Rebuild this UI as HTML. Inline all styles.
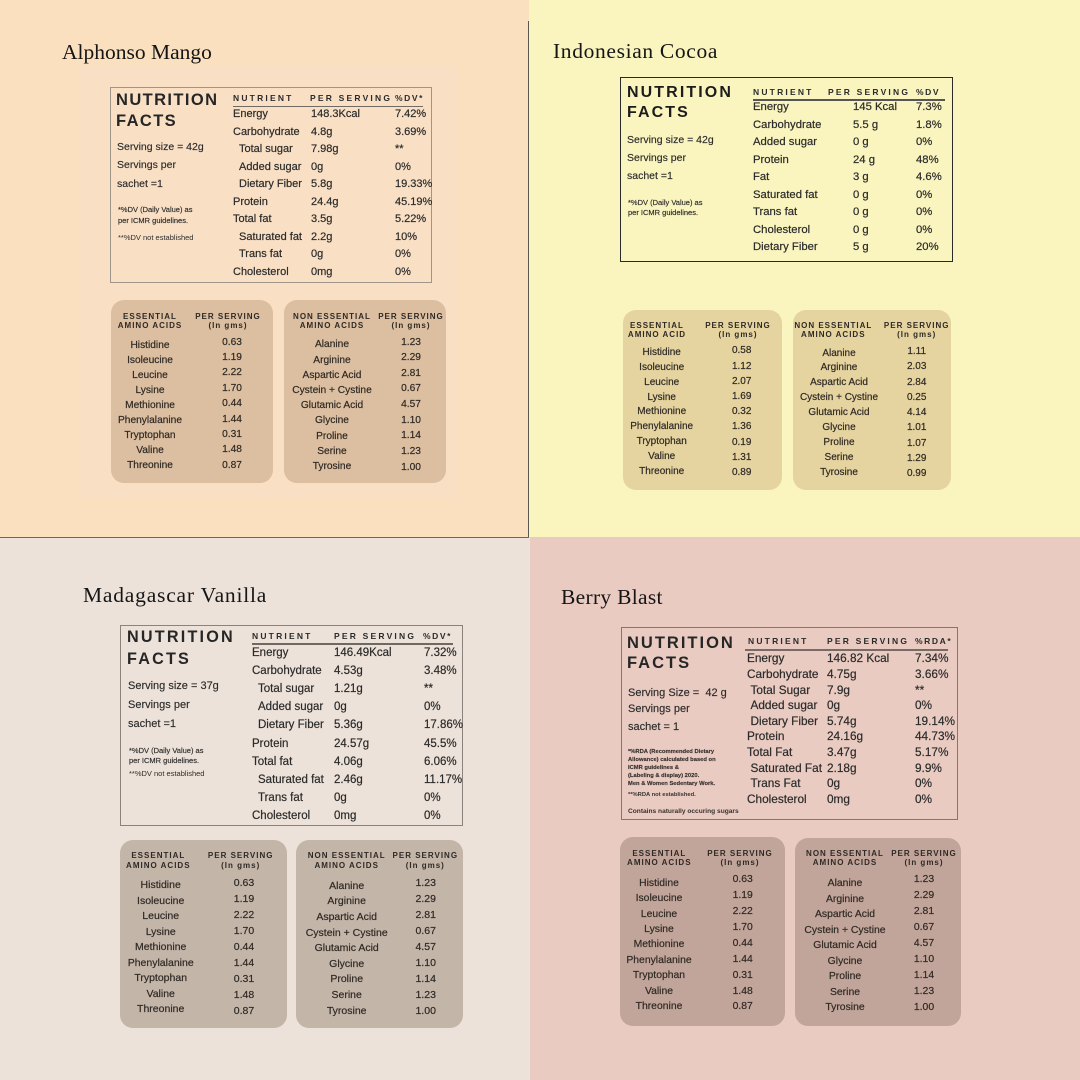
<!DOCTYPE html>
<html><head><meta charset="utf-8">
<style>
*{margin:0;padding:0;box-sizing:border-box}
body{width:1080px;height:1080px;position:relative;overflow:hidden;font-family:"Liberation Sans",sans-serif;color:#2b2b2b;background:#fae0bf}
.a{position:absolute;white-space:nowrap}
.t{position:absolute;font-family:"Liberation Serif",serif;font-size:21.5px;line-height:1;color:#151515;white-space:nowrap}
.nf{position:absolute;border:1.5px solid #9a8e80}
.big{position:absolute;font-weight:bold;white-space:nowrap;color:#262626}
.hd{position:absolute;font-weight:bold;font-size:8.5px;letter-spacing:2.2px;line-height:10px;white-space:nowrap;color:#2b2b2b}
.rows{position:absolute;-webkit-text-stroke:0.2px currentColor}
.rows div{position:relative;white-space:nowrap;height:var(--h);line-height:var(--h)}
.rows span{position:absolute;top:0;left:0}
.rows .i{left:var(--i)}
.rows .v{left:var(--v)}
.rows .p{left:var(--p)}
.box{position:absolute;border-radius:13px}
.col{position:absolute;text-align:center;white-space:nowrap;color:#2f2a25;-webkit-text-stroke:0.2px currentColor}
.col div{height:var(--h);line-height:var(--h)}
.ah{position:absolute;text-align:center;font-weight:bold;font-size:8px;letter-spacing:1px;line-height:9px;white-space:nowrap;color:#2f2a25}
.lt div{white-space:nowrap}
.lt{-webkit-text-stroke:0.15px currentColor}
</style></head><body>

<!-- Quadrant backgrounds -->
<div class="a" style="left:0;top:0;width:529px;height:537px;background:#fae0bf"></div>
<div class="a" style="left:529px;top:0;width:551px;height:537px;background:#faf4bf"></div>
<div class="a" style="left:0;top:537px;width:530px;height:543px;background:#ede2d9"></div>
<div class="a" style="left:530px;top:537px;width:550px;height:543px;background:#e9cbc1"></div>
<div class="a" style="left:80px;top:66px;width:378px;height:431px;background:#f9e0c5"></div>
<div class="a" style="left:528px;top:21px;width:1.3px;height:517px;background:#5a5650"></div>
<div class="a" style="left:0;top:537px;width:529px;height:1.3px;background:#6a655e"></div>

<!-- ============ TOP LEFT: Alphonso Mango ============ -->
<div class="t" style="left:62px;top:42px">Alphonso Mango</div>
<div class="nf" style="left:110px;top:87px;width:322px;height:196px;border-color:#a0958a"></div>
<div class="big" style="left:116px;top:90px;font-size:16.5px;line-height:21px;letter-spacing:1.4px">NUTRITION<br>FACTS</div>
<div class="a lt" style="left:117px;top:137.75px;font-size:10.5px;line-height:18.5px"><div>Serving size = 42g</div><div>Servings per</div><div>sachet =1</div></div>
<div class="a lt" style="left:118px;top:203.5px;font-size:7.5px;line-height:11px"><div>*%DV (Daily Value) as</div><div>per ICMR guidelines.</div></div>
<div class="a" style="left:118px;top:231.5px;font-size:7.5px;line-height:11px">**%DV not established</div>
<div class="hd" style="left:233px;top:93px">NUTRIENT</div>
<div class="hd" style="left:310px;top:93px">PER SERVING</div>
<div class="hd" style="left:395px;top:93px;letter-spacing:1.6px">%DV*</div>
<div class="a" style="left:233px;top:106px;width:190px;height:1.2px;background:#6f6a64"></div>
<div class="rows" style="left:233px;top:106.25px;font-size:11px;--h:17.5px;--i:6px;--v:78px;--p:162px">
<div><span>Energy</span><span class="v">148.3Kcal</span><span class="p">7.42%</span></div>
<div><span>Carbohydrate</span><span class="v">4.8g</span><span class="p">3.69%</span></div>
<div><span class="i">Total sugar</span><span class="v">7.98g</span><span class="p">**</span></div>
<div><span class="i">Added sugar</span><span class="v">0g</span><span class="p">0%</span></div>
<div><span class="i">Dietary Fiber</span><span class="v">5.8g</span><span class="p">19.33%</span></div>
<div><span>Protein</span><span class="v">24.4g</span><span class="p">45.19%</span></div>
<div><span>Total fat</span><span class="v">3.5g</span><span class="p">5.22%</span></div>
<div><span class="i">Saturated fat</span><span class="v">2.2g</span><span class="p">10%</span></div>
<div><span class="i">Trans fat</span><span class="v">0g</span><span class="p">0%</span></div>
<div><span>Cholesterol</span><span class="v">0mg</span><span class="p">0%</span></div>
</div>

<div class="box" style="left:111px;top:300px;width:162px;height:183px;background:#dcbea0"></div>
<div class="ah" style="left:100px;top:311.5px;width:100px">ESSENTIAL<br>AMINO ACIDS</div>
<div class="ah" style="left:178px;top:311.5px;width:100px">PER SERVING<br>(In gms)</div>
<div class="col" style="left:95px;top:337.5px;width:110px;font-size:10.2px;--h:15.04px">
<div>Histidine</div><div>Isoleucine</div><div>Leucine</div><div>Lysine</div><div>Methionine</div><div>Phenylalanine</div><div>Tryptophan</div><div>Valine</div><div>Threonine</div></div>
<div class="col" style="left:192px;top:334.6px;width:80px;font-size:10.2px;--h:15.4px">
<div>0.63</div><div>1.19</div><div>2.22</div><div>1.70</div><div>0.44</div><div>1.44</div><div>0.31</div><div>1.48</div><div>0.87</div></div>

<div class="box" style="left:284px;top:300px;width:162px;height:183px;background:#dcbea0"></div>
<div class="ah" style="left:272px;top:311.5px;width:120px">NON ESSENTIAL<br>AMINO ACIDS</div>
<div class="ah" style="left:361px;top:311.5px;width:100px">PER SERVING<br>(In gms)</div>
<div class="col" style="left:267px;top:337.4px;width:130px;font-size:10.2px;--h:15.2px">
<div>Alanine</div><div>Arginine</div><div>Aspartic Acid</div><div>Cystein + Cystine</div><div>Glutamic Acid</div><div>Glycine</div><div>Proline</div><div>Serine</div><div>Tyrosine</div></div>
<div class="col" style="left:371px;top:334.5px;width:80px;font-size:10.2px;--h:15.67px">
<div>1.23</div><div>2.29</div><div>2.81</div><div>0.67</div><div>4.57</div><div>1.10</div><div>1.14</div><div>1.23</div><div>1.00</div></div>

<!-- ============ TOP RIGHT: Indonesian Cocoa ============ -->
<div class="t" style="left:553px;top:41.3px;letter-spacing:0.65px">Indonesian Cocoa</div>
<div class="nf" style="left:620px;top:77px;width:333px;height:185px;border-color:#2a2a2a"></div>
<div class="big" style="left:627px;top:83px;font-size:16px;line-height:20.4px;letter-spacing:2.1px;color:#1c1c1c">NUTRITION<br>FACTS</div>
<div class="a lt" style="left:627px;top:130.8px;font-size:10.5px;line-height:18.35px"><div>Serving size = 42g</div><div>Servings per</div><div>sachet =1</div></div>
<div class="a lt" style="left:628px;top:198.3px;font-size:7.5px;line-height:10px"><div>*%DV (Daily Value) as</div><div>per ICMR guidelines.</div></div>
<div class="hd" style="left:753px;top:86.7px">NUTRIENT</div>
<div class="hd" style="left:828px;top:86.7px">PER SERVING</div>
<div class="hd" style="left:916px;top:86.7px;letter-spacing:1.6px">%DV</div>
<div class="a" style="left:753px;top:99px;width:192px;height:1.5px;background:#555"></div>
<div class="rows" style="left:753px;top:99.25px;font-size:11.3px;--h:17.5px;--i:0px;--v:100px;--p:163px">
<div><span>Energy</span><span class="v">145 Kcal</span><span class="p">7.3%</span></div>
<div><span>Carbohydrate</span><span class="v">5.5 g</span><span class="p">1.8%</span></div>
<div><span>Added sugar</span><span class="v">0 g</span><span class="p">0%</span></div>
<div><span>Protein</span><span class="v">24 g</span><span class="p">48%</span></div>
<div><span>Fat</span><span class="v">3 g</span><span class="p">4.6%</span></div>
<div><span>Saturated fat</span><span class="v">0 g</span><span class="p">0%</span></div>
<div><span>Trans fat</span><span class="v">0 g</span><span class="p">0%</span></div>
<div><span>Cholesterol</span><span class="v">0 g</span><span class="p">0%</span></div>
<div><span>Dietary Fiber</span><span class="v">5 g</span><span class="p">20%</span></div>
</div>

<div class="box" style="left:623px;top:310px;width:159px;height:180px;background:#e6d4a0"></div>
<div class="ah" style="left:607px;top:320.5px;width:100px">ESSENTIAL<br>AMINO ACID</div>
<div class="ah" style="left:688px;top:320.5px;width:100px">PER SERVING<br>(In gms)</div>
<div class="col" style="left:606.7px;top:345.9px;width:110px;font-size:10px;--h:14.875px">
<div>Histidine</div><div>Isoleucine</div><div>Leucine</div><div>Lysine</div><div>Methionine</div><div>Phenylalanine</div><div>Tryptophan</div><div>Valine</div><div>Threonine</div></div>
<div class="col" style="left:701.7px;top:343.4px;width:80px;font-size:10px;--h:15.2px">
<div>0.58</div><div>1.12</div><div>2.07</div><div>1.69</div><div>0.32</div><div>1.36</div><div>0.19</div><div>1.31</div><div>0.89</div></div>

<div class="box" style="left:793px;top:310px;width:158px;height:180px;background:#e6d4a0"></div>
<div class="ah" style="left:773.3px;top:320.5px;width:120px">NON ESSENTIAL<br>AMINO ACIDS</div>
<div class="ah" style="left:866.7px;top:320.5px;width:100px">PER SERVING<br>(In gms)</div>
<div class="col" style="left:774px;top:346.55px;width:130px;font-size:10px;--h:14.9px">
<div>Alanine</div><div>Arginine</div><div>Aspartic Acid</div><div>Cystein + Cystine</div><div>Glutamic Acid</div><div>Glycine</div><div>Proline</div><div>Serine</div><div>Tyrosine</div></div>
<div class="col" style="left:876.7px;top:344.1px;width:80px;font-size:10px;--h:15.25px">
<div>1.11</div><div>2.03</div><div>2.84</div><div>0.25</div><div>4.14</div><div>1.01</div><div>1.07</div><div>1.29</div><div>0.99</div></div>

<!-- ============ BOTTOM LEFT: Madagascar Vanilla ============ -->
<div class="t" style="left:83px;top:585.3px;letter-spacing:0.8px">Madagascar Vanilla</div>
<div class="nf" style="left:120px;top:625px;width:343px;height:201px;border-color:#8a837d"></div>
<div class="big" style="left:127px;top:627px;font-size:16.2px;line-height:21.7px;letter-spacing:2.2px">NUTRITION<br>FACTS</div>
<div class="a lt" style="left:128px;top:676.5px;font-size:11px;line-height:19px"><div>Serving size = 37g</div><div>Servings per</div><div>sachet =1</div></div>
<div class="a lt" style="left:129px;top:745.65px;font-size:7.5px;line-height:10.7px"><div>*%DV (Daily Value) as</div><div>per ICMR guidelines.</div></div>
<div class="a" style="left:129px;top:769px;font-size:7.5px;line-height:10.7px">**%DV not established</div>
<div class="hd" style="left:252px;top:631px">NUTRIENT</div>
<div class="hd" style="left:334px;top:631px">PER SERVING</div>
<div class="hd" style="left:423px;top:631px;letter-spacing:1.6px">%DV*</div>
<div class="a" style="left:252px;top:643px;width:201px;height:1.5px;background:#6e6963"></div>
<div class="rows" style="left:252px;top:643.9px;font-size:11.5px;--h:18.15px;--i:6px;--v:82px;--p:172px">
<div><span>Energy</span><span class="v">146.49Kcal</span><span class="p">7.32%</span></div>
<div><span>Carbohydrate</span><span class="v">4.53g</span><span class="p">3.48%</span></div>
<div><span class="i">Total sugar</span><span class="v">1.21g</span><span class="p">**</span></div>
<div><span class="i">Added sugar</span><span class="v">0g</span><span class="p">0%</span></div>
<div><span class="i">Dietary Fiber</span><span class="v">5.36g</span><span class="p">17.86%</span></div>
<div><span>Protein</span><span class="v">24.57g</span><span class="p">45.5%</span></div>
<div><span>Total fat</span><span class="v">4.06g</span><span class="p">6.06%</span></div>
<div><span class="i">Saturated fat</span><span class="v">2.46g</span><span class="p">11.17%</span></div>
<div><span class="i">Trans fat</span><span class="v">0g</span><span class="p">0%</span></div>
<div><span>Cholesterol</span><span class="v">0mg</span><span class="p">0%</span></div>
</div>

<div class="box" style="left:120px;top:840px;width:167px;height:188px;background:#c4b5a9"></div>
<div class="ah" style="left:108.3px;top:851.35px;width:100px;line-height:9.3px">ESSENTIAL<br>AMINO ACIDS</div>
<div class="ah" style="left:190.7px;top:851.35px;width:100px;line-height:9.3px">PER SERVING<br>(In gms)</div>
<div class="col" style="left:105.7px;top:878.25px;width:110px;font-size:10.5px;--h:15.5px">
<div>Histidine</div><div>Isoleucine</div><div>Leucine</div><div>Lysine</div><div>Methionine</div><div>Phenylalanine</div><div>Tryptophan</div><div>Valine</div><div>Threonine</div></div>
<div class="col" style="left:204px;top:874.7px;width:80px;font-size:10.5px;--h:16.04px">
<div>0.63</div><div>1.19</div><div>2.22</div><div>1.70</div><div>0.44</div><div>1.44</div><div>0.31</div><div>1.48</div><div>0.87</div></div>

<div class="box" style="left:296px;top:840px;width:167px;height:188px;background:#c4b5a9"></div>
<div class="ah" style="left:286.7px;top:851.35px;width:120px;line-height:9.3px">NON ESSENTIAL<br>AMINO ACIDS</div>
<div class="ah" style="left:375.3px;top:851.35px;width:100px;line-height:9.3px">PER SERVING<br>(In gms)</div>
<div class="col" style="left:281.7px;top:878.9px;width:130px;font-size:10.5px;--h:15.6px">
<div>Alanine</div><div>Arginine</div><div>Aspartic Acid</div><div>Cystein + Cystine</div><div>Glutamic Acid</div><div>Glycine</div><div>Proline</div><div>Serine</div><div>Tyrosine</div></div>
<div class="col" style="left:385.7px;top:874.65px;width:80px;font-size:10.5px;--h:16.1px">
<div>1.23</div><div>2.29</div><div>2.81</div><div>0.67</div><div>4.57</div><div>1.10</div><div>1.14</div><div>1.23</div><div>1.00</div></div>

<!-- ============ BOTTOM RIGHT: Berry Blast ============ -->
<div class="t" style="left:561px;top:587px;letter-spacing:0.3px">Berry Blast</div>
<div class="nf" style="left:621px;top:627px;width:337px;height:193px;border-color:#857570"></div>
<div class="big" style="left:627px;top:632.6px;font-size:16.5px;line-height:20.8px;letter-spacing:2px">NUTRITION<br>FACTS</div>
<div class="a lt" style="left:628px;top:683.7px;font-size:11px;line-height:18px">Serving Size =&nbsp; 42 g</div>
<div class="a lt" style="left:628px;top:700px;font-size:11px;line-height:18px">Servings per</div>
<div class="a lt" style="left:628px;top:718.3px;font-size:11px;line-height:18px">sachet = 1</div>
<div class="a lt" style="left:628px;top:749.3px;font-size:5.8px;line-height:7.95px;font-weight:bold;color:#3a3230"><div>*%RDA (Recommended Dietary</div><div>Allowance) calculated based on</div><div>ICMR guidelines &amp;</div><div>(Labeling &amp; display) 2020.</div><div>Men &amp; Women Sedentary Work.</div></div>
<div class="a" style="left:628px;top:791.3px;font-size:5.8px;line-height:8px;font-weight:bold;color:#3a3230">**%RDA not established.</div>
<div class="a" style="left:628px;top:806.5px;font-size:6.6px;line-height:9px;font-weight:bold;color:#3a3230">Contains naturally occuring sugars</div>
<div class="hd" style="left:748px;top:636px">NUTRIENT</div>
<div class="hd" style="left:827px;top:636px">PER SERVING</div>
<div class="hd" style="left:915px;top:636px;letter-spacing:1.6px">%RDA*</div>
<div class="a" style="left:745px;top:649px;width:203px;height:1.5px;background:#7a6a65"></div>
<div class="rows" style="left:747px;top:651.2px;font-size:11.8px;--h:15.67px;--i:3.5px;--v:80px;--p:168px">
<div><span>Energy</span><span class="v">146.82 Kcal</span><span class="p">7.34%</span></div>
<div><span>Carbohydrate</span><span class="v">4.75g</span><span class="p">3.66%</span></div>
<div><span class="i">Total Sugar</span><span class="v">7.9g</span><span class="p">**</span></div>
<div><span class="i">Added sugar</span><span class="v">0g</span><span class="p">0%</span></div>
<div><span class="i">Dietary Fiber</span><span class="v">5.74g</span><span class="p">19.14%</span></div>
<div><span>Protein</span><span class="v">24.16g</span><span class="p">44.73%</span></div>
<div><span>Total Fat</span><span class="v">3.47g</span><span class="p">5.17%</span></div>
<div><span class="i">Saturated Fat</span><span class="v">2.18g</span><span class="p">9.9%</span></div>
<div><span class="i">Trans Fat</span><span class="v">0g</span><span class="p">0%</span></div>
<div><span>Cholesterol</span><span class="v">0mg</span><span class="p">0%</span></div>
</div>

<div class="box" style="left:620px;top:837px;width:165px;height:189px;background:#c2a59a"></div>
<div class="ah" style="left:609.3px;top:849px;width:100px;line-height:9.3px">ESSENTIAL<br>AMINO ACIDS</div>
<div class="ah" style="left:690px;top:849px;width:100px;line-height:9.3px">PER SERVING<br>(In gms)</div>
<div class="col" style="left:604px;top:875.6px;width:110px;font-size:10.4px;--h:15.46px">
<div>Histidine</div><div>Isoleucine</div><div>Leucine</div><div>Lysine</div><div>Methionine</div><div>Phenylalanine</div><div>Tryptophan</div><div>Valine</div><div>Threonine</div></div>
<div class="col" style="left:702.7px;top:872.35px;width:80px;font-size:10.4px;--h:15.9px">
<div>0.63</div><div>1.19</div><div>2.22</div><div>1.70</div><div>0.44</div><div>1.44</div><div>0.31</div><div>1.48</div><div>0.87</div></div>

<div class="box" style="left:795px;top:838px;width:166px;height:188px;background:#c2a59a"></div>
<div class="ah" style="left:785px;top:849px;width:120px;line-height:9.3px">NON ESSENTIAL<br>AMINO ACIDS</div>
<div class="ah" style="left:874px;top:849px;width:100px;line-height:9.3px">PER SERVING<br>(In gms)</div>
<div class="col" style="left:780px;top:876.2px;width:130px;font-size:10.4px;--h:15.54px">
<div>Alanine</div><div>Arginine</div><div>Aspartic Acid</div><div>Cystein + Cystine</div><div>Glutamic Acid</div><div>Glycine</div><div>Proline</div><div>Serine</div><div>Tyrosine</div></div>
<div class="col" style="left:884px;top:871.98px;width:80px;font-size:10.4px;--h:16.04px">
<div>1.23</div><div>2.29</div><div>2.81</div><div>0.67</div><div>4.57</div><div>1.10</div><div>1.14</div><div>1.23</div><div>1.00</div></div>

</body></html>
